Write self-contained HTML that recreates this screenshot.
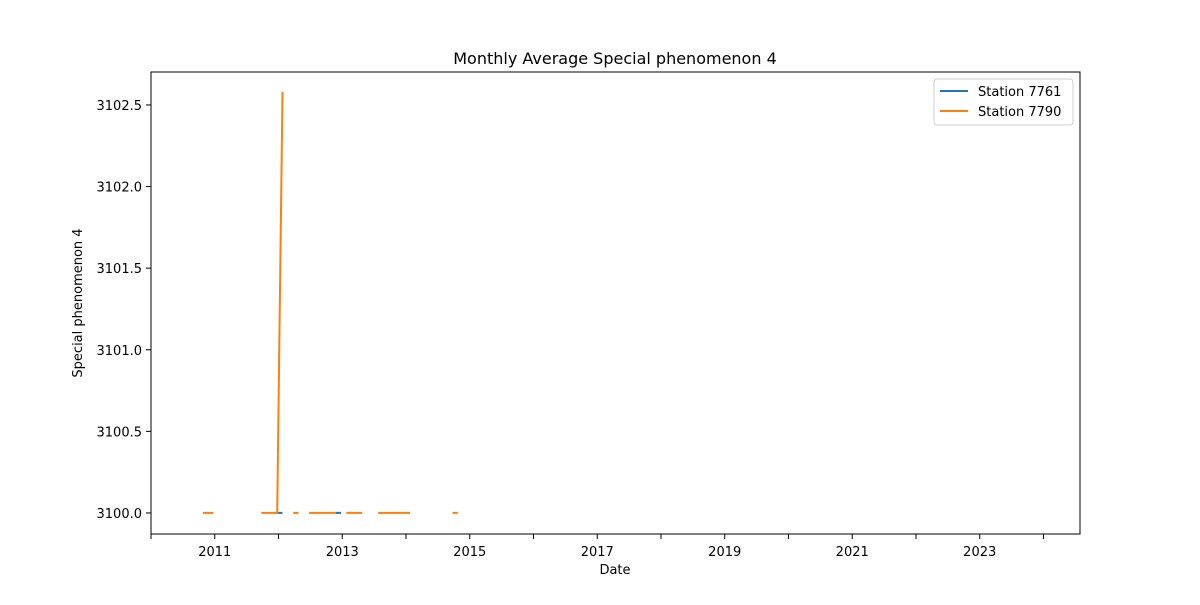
<!DOCTYPE html>
<html><head><meta charset="utf-8"><style>
body{margin:0;background:#fff;font-family:"Liberation Sans","DejaVu Sans",sans-serif}
</style></head><body>
<svg id="c" width="1200" height="600" xmlns="http://www.w3.org/2000/svg" font-family="DejaVu Sans, Liberation Sans, sans-serif">
<rect width="1200" height="600" fill="#fff"/>
<text x="615" y="64" font-size="16" text-anchor="middle">Monthly Average Special phenomenon 4</text>
<text x="615" y="574" font-size="13" text-anchor="middle">Date</text>
<text transform="translate(82,303) rotate(-90)" font-size="13" text-anchor="middle">Special phenomenon 4</text>
<g id="ticks"></g>
<g id="series"></g>
<rect x="151" y="72" width="929" height="462" fill="none" stroke="#000" stroke-width="1"/>
<g>
<rect x="934" y="79" width="139" height="46" rx="3" fill="#fff" stroke="#ccc"/>
<line x1="940" y1="91" x2="968" y2="91" stroke="#1f77b4" stroke-width="2"/>
<text x="978" y="96" font-size="13">Station 7761</text>
<line x1="940" y1="111" x2="968" y2="111" stroke="#ff7f0e" stroke-width="2"/>
<text x="978" y="116" font-size="13">Station 7790</text>
</g>
</svg>
<script>
const xTickYears=[2010,2011,2012,2013,2014,2015,2016,2017,2018,2019,2020,2021,2022,2023,2024];
const yTicks=[3100.0,3100.5,3101.0,3101.5,3102.0,3102.5];
const dates7761=["2012-01","2012-02",null,"2012-12","2013-01"];
const values7761=[3100,3100,null,3100,3100];
const dates7790=["2010-11","2010-12","2011-01",null,"2011-10","2011-11","2011-12","2012-01","2012-02",null,"2012-04","2012-05",null,"2012-07","2012-08","2012-09","2012-10","2012-11","2012-12",null,"2013-02","2013-03","2013-04","2013-05",null,"2013-08","2013-09","2013-10","2013-11","2013-12","2014-01","2014-02",null,"2014-10","2014-11"];
const values7790=[3100,3100,3100,null,3100,3100,3100,3100,3102.58,null,3100,3100,null,3100,3100,3100,3100,3100,3100,null,3100,3100,3100,3100,null,3100,3100,3100,3100,3100,3100,3100,null,3100,3100];
const NS="http://www.w3.org/2000/svg";
const X0=151,X1=1080,Y0=534,Y1=72,xmin=2010.0,xmax=2024.573,ymin=3099.871,ymax=3102.702;
const sx=v=>X0+(v-xmin)/(xmax-xmin)*(X1-X0);
const sy=v=>Y0-(v-ymin)/(ymax-ymin)*(Y0-Y1);
const dv=s=>{const[a,b]=s.split("-").map(Number);return a+(b-1)/12-0.02;};
const tg=document.getElementById("ticks");
function mk(t,a,p){const e=document.createElementNS(NS,t);for(const k in a)e.setAttribute(k,a[k]);p.appendChild(e);return e;}
xTickYears.forEach(y=>{const x=sx(y);
const l=mk("line",{x1:x,x2:x,y1:534,y2:539,stroke:"#000"},tg);


if(y%2===1){const t=mk("text",{x:x,y:556,"font-size":13,"text-anchor":"middle"},tg);t.textContent=y;

}});
yTicks.forEach(v=>{const y=sy(v);
const l=mk("line",{x1:146,x2:151,y1:y,y2:y,stroke:"#000"},tg);


const t=mk("text",{x:142,y:y+5,"font-size":13,"text-anchor":"end"},tg);t.textContent=v.toFixed(1);

});
const sg=document.getElementById("series");
function draw(ds,vs,col,name){let d="",pen=false;
ds.forEach((s,i)=>{if(s===null||vs[i]===null){pen=false;return;}d+=(pen?"L":"M")+sx(dv(s)).toFixed(1)+" "+sy(vs[i]).toFixed(1);pen=true;});
const p=mk("path",{d:d,fill:"none",stroke:col,"stroke-width":2},sg);

}
draw(dates7761,values7761,"#1f77b4","series-station-7761");
draw(dates7790,values7790,"#ff7f0e","series-station-7790");
</script>
</body></html>
